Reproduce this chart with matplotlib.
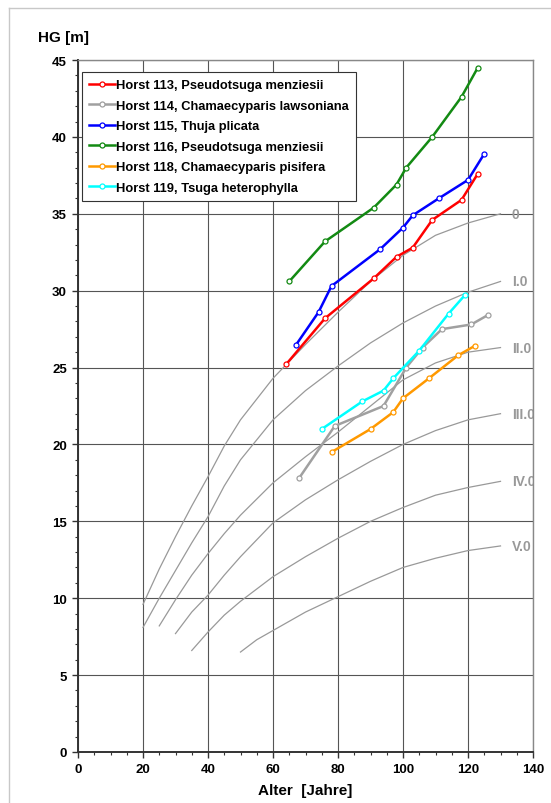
import numpy as np
import matplotlib
matplotlib.use('Agg')
import matplotlib.pyplot as plt
from matplotlib.lines import Line2D

plt.rcParams['font.family'] = ['Liberation Sans', 'DejaVu Sans']
plt.rcParams['font.weight'] = 'bold'

# yield class curves (Ertragsklassen)
bon_labels = ['0', 'I.0', 'II.0', 'III.0', 'IV.0', 'V.0']
bon_x = [
    [20, 25, 30, 35, 40, 45, 50, 60, 70, 80, 90, 100, 110, 120, 130],
    [20, 25, 30, 35, 40, 45, 50, 60, 70, 80, 90, 100, 110, 120, 130],
    [25, 30, 35, 40, 45, 50, 60, 70, 80, 90, 100, 110, 120, 130],
    [30, 35, 40, 45, 50, 60, 70, 80, 90, 100, 110, 120, 130],
    [35, 40, 45, 50, 60, 70, 80, 90, 100, 110, 120, 130],
    [50, 55, 60, 70, 80, 90, 100, 110, 120, 130],
]
bon_y = [
    [9.6, 11.9, 14.0, 16.0, 17.9, 19.9, 21.6, 24.3, 26.5, 28.6, 30.6, 32.3, 33.6, 34.4, 35.0],
    [8.1, 10.0, 11.8, 13.6, 15.3, 17.3, 19.0, 21.6, 23.5, 25.1, 26.6, 27.9, 29.0, 29.9, 30.6],
    [8.2, 9.9, 11.5, 12.9, 14.2, 15.4, 17.5, 19.2, 20.8, 22.5, 24.2, 25.3, 26.0, 26.3],
    [7.7, 9.1, 10.2, 11.5, 12.7, 14.9, 16.4, 17.7, 18.9, 20.0, 20.9, 21.6, 22.0],
    [6.6, 7.8, 8.9, 9.8, 11.4, 12.7, 13.9, 15.0, 15.9, 16.7, 17.2, 17.6],
    [6.5, 7.3, 7.9, 9.1, 10.1, 11.1, 12.0, 12.6, 13.1, 13.4],
]

# measured stands
names = ['Horst 113, Pseudotsuga menziesii',
         'Horst 114, Chamaecyparis lawsoniana',
         'Horst 115, Thuja plicata',
         'Horst 116, Pseudotsuga menziesii',
         'Horst 118, Chamaecyparis pisifera',
         'Horst 119, Tsuga heterophylla']
colors = ['#ff0000', '#a0a0a0', '#0000ff', '#138a13', '#ff9900', '#00ffff']
alter = [
    [64, 76, 91, 98, 103, 109, 118, 123],
    [68, 79, 94, 101, 106, 112, 121, 126],
    [67, 74, 78, 93, 100, 103, 111, 120, 125],
    [65, 76, 91, 98, 101, 109, 118, 123],
    [78, 90, 97, 100, 108, 117, 122],
    [75, 87.5, 94, 97, 105, 114, 119],
]
hg = [
    [25.2, 28.2, 30.8, 32.2, 32.8, 34.6, 35.9, 37.6],
    [17.8, 21.2, 22.5, 25.0, 26.3, 27.5, 27.8, 28.4],
    [26.45, 28.6, 30.3, 32.7, 34.1, 34.9, 36.0, 37.2, 38.9],
    [30.6, 33.2, 35.4, 36.9, 38.0, 40.0, 42.6, 44.5],
    [19.5, 21.0, 22.1, 23.0, 24.3, 25.8, 26.4],
    [21.0, 22.8, 23.5, 24.3, 26.1, 28.5, 29.7],
]

fig = plt.figure(figsize=(5.51, 8.04), dpi=100)
ax = fig.add_axes([78/551, 51/804, 455/551, 692/804])

for bx, by, lab in zip(bon_x, bon_y, bon_labels):
    ax.plot(bx, by, color='#999999', lw=0.9, zorder=2)
    ax.text(133.5, by[-1], lab, color='#999999', fontsize=10, fontweight='bold',
            va='center', ha='left', clip_on=True)

for x, y, c, n in zip(alter, hg, colors, names):
    ax.plot(x, y, color=c, lw=1.8, marker='o', ms=3.6, mfc='white', mec=c,
            mew=0.9, label=n, zorder=3)

ax.set_xlim(0, 140)
ax.set_ylim(0, 45)
ax.set_xticks(np.arange(0, 141, 20))
ax.set_yticks(np.arange(0, 46, 5))
ax.set_xticks(np.arange(0, 141, 5), minor=True)
ax.set_yticks(np.arange(0, 46, 1), minor=True)
ax.grid(True, which='major', color='#555555', lw=0.8, zorder=1)
ax.tick_params(which='major', direction='out', length=4, width=1, labelsize=9.5,
               colors='#333333', pad=4)
ax.tick_params(which='minor', direction='out', length=2.5, width=0.8, colors='#333333')
for lab in ax.get_xticklabels() + ax.get_yticklabels():
    lab.set_fontweight('bold')
    lab.set_color('black')
for s in ['left', 'bottom']:
    ax.spines[s].set_color('#333333')
    ax.spines[s].set_linewidth(1.4)
for s in ['top', 'right']:
    ax.spines[s].set_color('#888888')
    ax.spines[s].set_linewidth(1.0)

ax.set_xlabel('Alter  [Jahre]', fontsize=11, fontweight='bold', labelpad=6)
fig.text(38/551, 1 - 38/804, 'HG [m]', fontsize=11, fontweight='bold', va='center', ha='left')

leg = ax.legend(loc='upper left', bbox_to_anchor=(4/455, 1 - 12/692),
                frameon=True, fancybox=False, edgecolor='#333333', framealpha=1,
                handlelength=2.0, handletextpad=0.1, labelspacing=0.66,
                borderpad=0.55, borderaxespad=0, numpoints=1,
                prop={'weight': 'bold', 'size': 9.3})
leg.get_frame().set_linewidth(0.8)

# outer frame of the original chart (only left and top visible)
fig.add_artist(Line2D([9/551, 9/551], [0, 1 - 9/804], color='#c8c8c8', lw=1))
fig.add_artist(Line2D([9/551, 1], [1 - 9/804, 1 - 9/804], color='#c8c8c8', lw=1))

fig.savefig('out.png', dpi=100)
